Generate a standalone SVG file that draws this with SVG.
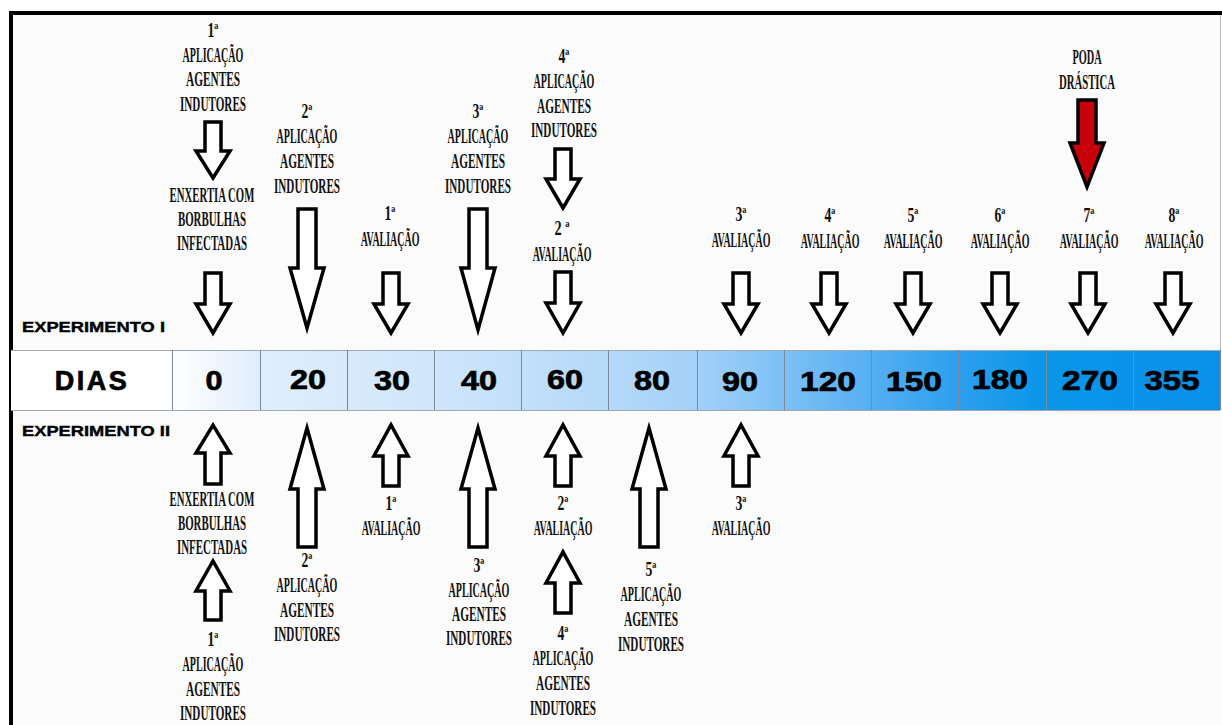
<svg xmlns="http://www.w3.org/2000/svg" width="1222" height="725" viewBox="0 0 1222 725">
<defs>
<linearGradient id="barG" x1="172" y1="0" x2="1220" y2="0" gradientUnits="userSpaceOnUse">
<stop offset="0" stop-color="#ffffff"/>
<stop offset="0.084" stop-color="#dfeefc"/>
<stop offset="0.25" stop-color="#cfe6fb"/>
<stop offset="0.416" stop-color="#b5d9f9"/>
<stop offset="0.5" stop-color="#a3d1f8"/>
<stop offset="0.583" stop-color="#7dc0f5"/>
<stop offset="0.666" stop-color="#56aff2"/>
<stop offset="0.75" stop-color="#2c9fee"/>
<stop offset="0.834" stop-color="#0896e9"/>
<stop offset="1" stop-color="#0a90e8"/>
</linearGradient>
</defs>
<style>
.t{font-family:"Liberation Serif","DejaVu Serif",serif;font-weight:bold;font-size:20px;text-anchor:middle;fill:#111}
.n{font-family:"Liberation Sans",Arial,sans-serif;font-weight:bold;font-size:27px;text-anchor:middle;fill:#000;stroke:#000;stroke-width:0.7}
.e{font-family:"Liberation Sans",Arial,sans-serif;font-weight:bold;font-size:15px;fill:#000;stroke:#000;stroke-width:0.4}
.ar{fill:#fff;stroke:#000;stroke-width:3.5;stroke-linejoin:miter}
.red{fill:#c8000a;stroke:#000;stroke-width:3.5;stroke-linejoin:miter}
.sep{stroke:#7a8a98;stroke-width:1}
</style>
<rect x="0" y="0" width="1222" height="725" fill="#ffffff"/>
<rect x="11" y="13" width="1211" height="712" fill="#fbfbfb"/>
<line x1="1220.5" y1="15" x2="1220.5" y2="350" stroke="#bbbbbb" stroke-width="1"/>
<path d="M11,725 V13 H1222" fill="none" stroke="#000" stroke-width="4"/>

<g id="timeline">
<rect x="11" y="350" width="161" height="60" fill="#ffffff"/>
<rect x="172" y="350" width="1048" height="60" fill="url(#barG)"/>
<line x1="11" y1="350.5" x2="1220" y2="350.5" stroke="#a0a8b0" stroke-width="1"/>
<line x1="11" y1="410.5" x2="1220" y2="410.5" stroke="#a0a8b0" stroke-width="1"/>
<line class="sep" x1="172.5" y1="350" x2="172.5" y2="410"/>
<line class="sep" x1="260.5" y1="350" x2="260.5" y2="410"/>
<line class="sep" x1="347.5" y1="350" x2="347.5" y2="410"/>
<line class="sep" x1="434.5" y1="350" x2="434.5" y2="410"/>
<line class="sep" x1="521.5" y1="350" x2="521.5" y2="410"/>
<line class="sep" x1="608.5" y1="350" x2="608.5" y2="410"/>
<line class="sep" x1="697.5" y1="350" x2="697.5" y2="410"/>
<line class="sep" x1="784.5" y1="350" x2="784.5" y2="410"/>
<line class="sep" x1="871.5" y1="350" x2="871.5" y2="410"/>
<line class="sep" x1="958.5" y1="350" x2="958.5" y2="410"/>
<line class="sep" x1="1046.5" y1="350" x2="1046.5" y2="410"/>
<line class="sep" x1="1133.5" y1="350" x2="1133.5" y2="410"/>
<line x1="1220.5" y1="350" x2="1220.5" y2="410" stroke="#7a8a98" stroke-width="1"/>
<text x="92" y="390" class="n" font-size="28" letter-spacing="2.5">DIAS</text>
<text x="214" y="390" class="n" textLength="17" lengthAdjust="spacingAndGlyphs">0</text>
<text x="308" y="389" class="n" textLength="36" lengthAdjust="spacingAndGlyphs">20</text>
<text x="392" y="390" class="n" textLength="36" lengthAdjust="spacingAndGlyphs">30</text>
<text x="479" y="390" class="n" textLength="36" lengthAdjust="spacingAndGlyphs">40</text>
<text x="565" y="389" class="n" textLength="36" lengthAdjust="spacingAndGlyphs">60</text>
<text x="652" y="390" class="n" textLength="36" lengthAdjust="spacingAndGlyphs">80</text>
<text x="740" y="391" class="n" textLength="36" lengthAdjust="spacingAndGlyphs">90</text>
<text x="828" y="391" class="n" textLength="56" lengthAdjust="spacingAndGlyphs">120</text>
<text x="914" y="391" class="n" textLength="56" lengthAdjust="spacingAndGlyphs">150</text>
<text x="1000" y="389" class="n" textLength="56" lengthAdjust="spacingAndGlyphs">180</text>
<text x="1090" y="390" class="n" textLength="56" lengthAdjust="spacingAndGlyphs">270</text>
<text x="1172" y="390" class="n" textLength="55" lengthAdjust="spacingAndGlyphs">355</text>
</g>

<g id="exp-labels">
<text x="22" y="332" class="e" textLength="143" lengthAdjust="spacingAndGlyphs">EXPERIMENTO I</text>
<text x="22" y="436" class="e" textLength="148" lengthAdjust="spacingAndGlyphs">EXPERIMENTO II</text>
</g>

<g id="connectors">
<path class="ar" d="M205,122 H221 V151 H230 L213,178 L196,151 H205 Z"/>
<path class="ar" d="M205,273 H221 V304 H230 L213,333 L196,304 H205 Z"/>
<path class="ar" d="M298,209 H316 V268 H324 L307,328 L290,268 H298 Z"/>
<path class="ar" d="M383,273 H399 V304 H408 L391,333 L374,304 H383 Z"/>
<path class="ar" d="M469,209 H487 V268 H495 L478,330 L461,268 H469 Z"/>
<path class="ar" d="M555,149 H571 V179 H580 L563,208 L546,179 H555 Z"/>
<path class="ar" d="M555,272 H571 V303 H580 L563,333 L546,303 H555 Z"/>
<path class="ar" d="M733,273 H749 V304 H758 L741,333 L724,304 H733 Z"/>
<path class="ar" d="M821,273 H837 V304 H846 L829,333 L812,304 H821 Z"/>
<path class="ar" d="M905,273 H921 V304 H930 L913,333 L896,304 H905 Z"/>
<path class="ar" d="M992,273 H1008 V304 H1017 L1000,333 L983,304 H992 Z"/>
<path class="ar" d="M1080,273 H1096 V304 H1105 L1088,333 L1071,304 H1080 Z"/>
<path class="ar" d="M1165,273 H1181 V304 H1190 L1173,333 L1156,304 H1165 Z"/>
<path class="red" d="M1078,100 H1096 V143 H1104 L1087,187 L1070,143 H1078 Z"/>

<path class="ar" d="M205,484 H221 V453 H230 L213,425 L196,453 H205 Z"/>
<path class="ar" d="M205,620 H221 V591 H230 L213,561 L196,591 H205 Z"/>
<path class="ar" d="M298,547 H316 V489 H324 L307,428 L290,489 H298 Z"/>
<path class="ar" d="M383,486 H399 V456 H408 L391,425 L374,456 H383 Z"/>
<path class="ar" d="M469,547 H487 V489 H495 L478,428 L461,489 H469 Z"/>
<path class="ar" d="M555,486 H571 V456 H580 L563,425 L546,456 H555 Z"/>
<path class="ar" d="M555,613 H571 V583 H580 L563,552 L546,583 H555 Z"/>
<path class="ar" d="M640,547 H658 V489 H666 L649,428 L632,489 H640 Z"/>
<path class="ar" d="M733,486 H749 V456 H758 L741,425 L724,456 H733 Z"/>
</g>

<g id="top-0a" transform="translate(213,0) scale(0.52,1)">
<text x="0" y="37" class="t" textLength="21" lengthAdjust="spacingAndGlyphs">1ª</text>
<text x="0" y="62" class="t" textLength="117" lengthAdjust="spacingAndGlyphs">APLICAÇÃO</text>
<text x="0" y="86" class="t" textLength="104" lengthAdjust="spacingAndGlyphs">AGENTES</text>
<text x="0" y="111" class="t" textLength="127" lengthAdjust="spacingAndGlyphs">INDUTORES</text>
</g>
<g id="top-0b" transform="translate(212,0) scale(0.52,1)">
<text x="0" y="202" class="t" textLength="163" lengthAdjust="spacingAndGlyphs">ENXERTIA COM</text>
<text x="0" y="226" class="t" textLength="131" lengthAdjust="spacingAndGlyphs">BORBULHAS</text>
<text x="0" y="250" class="t" textLength="135" lengthAdjust="spacingAndGlyphs">INFECTADAS</text>
</g>
<g id="top-20" transform="translate(307,0) scale(0.52,1)">
<text x="0" y="118" class="t" textLength="21" lengthAdjust="spacingAndGlyphs">2ª</text>
<text x="0" y="143" class="t" textLength="117" lengthAdjust="spacingAndGlyphs">APLICAÇÃO</text>
<text x="0" y="168" class="t" textLength="104" lengthAdjust="spacingAndGlyphs">AGENTES</text>
<text x="0" y="193" class="t" textLength="127" lengthAdjust="spacingAndGlyphs">INDUTORES</text>
</g>
<g id="top-30" transform="translate(390,0) scale(0.52,1)">
<text x="0" y="220" class="t" textLength="21" lengthAdjust="spacingAndGlyphs">1ª</text>
<text x="0" y="246" class="t" textLength="113" lengthAdjust="spacingAndGlyphs">AVALIAÇÃO</text>
</g>
<g id="top-40" transform="translate(478,0) scale(0.52,1)">
<text x="0" y="118" class="t" textLength="21" lengthAdjust="spacingAndGlyphs">3ª</text>
<text x="0" y="143" class="t" textLength="117" lengthAdjust="spacingAndGlyphs">APLICAÇÃO</text>
<text x="0" y="168" class="t" textLength="104" lengthAdjust="spacingAndGlyphs">AGENTES</text>
<text x="0" y="193" class="t" textLength="127" lengthAdjust="spacingAndGlyphs">INDUTORES</text>
</g>
<g id="top-60a" transform="translate(564,0) scale(0.52,1)">
<text x="0" y="63" class="t" textLength="21" lengthAdjust="spacingAndGlyphs">4ª</text>
<text x="0" y="88" class="t" textLength="117" lengthAdjust="spacingAndGlyphs">APLICAÇÃO</text>
<text x="0" y="113" class="t" textLength="104" lengthAdjust="spacingAndGlyphs">AGENTES</text>
<text x="0" y="137" class="t" textLength="127" lengthAdjust="spacingAndGlyphs">INDUTORES</text>
</g>
<g id="top-60b" transform="translate(562,0) scale(0.52,1)">
<text x="0" y="235" class="t" textLength="29" lengthAdjust="spacingAndGlyphs">2 ª</text>
<text x="0" y="261" class="t" textLength="113" lengthAdjust="spacingAndGlyphs">AVALIAÇÃO</text>
</g>
<g id="top-90" transform="translate(741,0) scale(0.52,1)">
<text x="0" y="221" class="t" textLength="21" lengthAdjust="spacingAndGlyphs">3ª</text>
<text x="0" y="247" class="t" textLength="113" lengthAdjust="spacingAndGlyphs">AVALIAÇÃO</text>
</g>
<g id="top-120" transform="translate(830,0) scale(0.52,1)">
<text x="0" y="222" class="t" textLength="21" lengthAdjust="spacingAndGlyphs">4ª</text>
<text x="0" y="248" class="t" textLength="113" lengthAdjust="spacingAndGlyphs">AVALIAÇÃO</text>
</g>
<g id="top-150" transform="translate(913,0) scale(0.52,1)">
<text x="0" y="222" class="t" textLength="21" lengthAdjust="spacingAndGlyphs">5ª</text>
<text x="0" y="248" class="t" textLength="113" lengthAdjust="spacingAndGlyphs">AVALIAÇÃO</text>
</g>
<g id="top-180" transform="translate(1000,0) scale(0.52,1)">
<text x="0" y="222" class="t" textLength="21" lengthAdjust="spacingAndGlyphs">6ª</text>
<text x="0" y="248" class="t" textLength="113" lengthAdjust="spacingAndGlyphs">AVALIAÇÃO</text>
</g>
<g id="top-270" transform="translate(1089,0) scale(0.52,1)">
<text x="0" y="222" class="t" textLength="21" lengthAdjust="spacingAndGlyphs">7ª</text>
<text x="0" y="248" class="t" textLength="113" lengthAdjust="spacingAndGlyphs">AVALIAÇÃO</text>
</g>
<g id="top-355" transform="translate(1174,0) scale(0.52,1)">
<text x="0" y="222" class="t" textLength="21" lengthAdjust="spacingAndGlyphs">8ª</text>
<text x="0" y="248" class="t" textLength="113" lengthAdjust="spacingAndGlyphs">AVALIAÇÃO</text>
</g>
<g id="top-poda" transform="translate(1087,0) scale(0.52,1)">
<text x="0" y="64" class="t" textLength="56" lengthAdjust="spacingAndGlyphs">PODA</text>
<text x="0" y="89" class="t" textLength="108" lengthAdjust="spacingAndGlyphs">DRÁSTICA</text>
</g>

<g id="bot-0a" transform="translate(212,0) scale(0.52,1)">
<text x="0" y="506" class="t" textLength="163" lengthAdjust="spacingAndGlyphs">ENXERTIA COM</text>
<text x="0" y="530" class="t" textLength="131" lengthAdjust="spacingAndGlyphs">BORBULHAS</text>
<text x="0" y="554" class="t" textLength="135" lengthAdjust="spacingAndGlyphs">INFECTADAS</text>
</g>
<g id="bot-0b" transform="translate(213,0) scale(0.52,1)">
<text x="0" y="646" class="t" textLength="21" lengthAdjust="spacingAndGlyphs">1ª</text>
<text x="0" y="671" class="t" textLength="117" lengthAdjust="spacingAndGlyphs">APLICAÇÃO</text>
<text x="0" y="696" class="t" textLength="104" lengthAdjust="spacingAndGlyphs">AGENTES</text>
<text x="0" y="720" class="t" textLength="127" lengthAdjust="spacingAndGlyphs">INDUTORES</text>
</g>
<g id="bot-20" transform="translate(307,0) scale(0.52,1)">
<text x="0" y="567" class="t" textLength="21" lengthAdjust="spacingAndGlyphs">2ª</text>
<text x="0" y="592" class="t" textLength="117" lengthAdjust="spacingAndGlyphs">APLICAÇÃO</text>
<text x="0" y="617" class="t" textLength="104" lengthAdjust="spacingAndGlyphs">AGENTES</text>
<text x="0" y="641" class="t" textLength="127" lengthAdjust="spacingAndGlyphs">INDUTORES</text>
</g>
<g id="bot-30" transform="translate(391,0) scale(0.52,1)">
<text x="0" y="510" class="t" textLength="21" lengthAdjust="spacingAndGlyphs">1ª</text>
<text x="0" y="535" class="t" textLength="113" lengthAdjust="spacingAndGlyphs">AVALIAÇÃO</text>
</g>
<g id="bot-40" transform="translate(479,0) scale(0.52,1)">
<text x="0" y="572" class="t" textLength="21" lengthAdjust="spacingAndGlyphs">3ª</text>
<text x="0" y="597" class="t" textLength="117" lengthAdjust="spacingAndGlyphs">APLICAÇÃO</text>
<text x="0" y="621" class="t" textLength="104" lengthAdjust="spacingAndGlyphs">AGENTES</text>
<text x="0" y="645" class="t" textLength="127" lengthAdjust="spacingAndGlyphs">INDUTORES</text>
</g>
<g id="bot-60a" transform="translate(563,0) scale(0.52,1)">
<text x="0" y="510" class="t" textLength="21" lengthAdjust="spacingAndGlyphs">2ª</text>
<text x="0" y="535" class="t" textLength="113" lengthAdjust="spacingAndGlyphs">AVALIAÇÃO</text>
</g>
<g id="bot-60b" transform="translate(563,0) scale(0.52,1)">
<text x="0" y="640" class="t" textLength="21" lengthAdjust="spacingAndGlyphs">4ª</text>
<text x="0" y="665" class="t" textLength="117" lengthAdjust="spacingAndGlyphs">APLICAÇÃO</text>
<text x="0" y="690" class="t" textLength="104" lengthAdjust="spacingAndGlyphs">AGENTES</text>
<text x="0" y="715" class="t" textLength="127" lengthAdjust="spacingAndGlyphs">INDUTORES</text>
</g>
<g id="bot-80" transform="translate(651,0) scale(0.52,1)">
<text x="0" y="576" class="t" textLength="21" lengthAdjust="spacingAndGlyphs">5ª</text>
<text x="0" y="601" class="t" textLength="117" lengthAdjust="spacingAndGlyphs">APLICAÇÃO</text>
<text x="0" y="626" class="t" textLength="104" lengthAdjust="spacingAndGlyphs">AGENTES</text>
<text x="0" y="651" class="t" textLength="127" lengthAdjust="spacingAndGlyphs">INDUTORES</text>
</g>
<g id="bot-90" transform="translate(741,0) scale(0.52,1)">
<text x="0" y="510" class="t" textLength="21" lengthAdjust="spacingAndGlyphs">3ª</text>
<text x="0" y="535" class="t" textLength="113" lengthAdjust="spacingAndGlyphs">AVALIAÇÃO</text>
</g>
</svg>
